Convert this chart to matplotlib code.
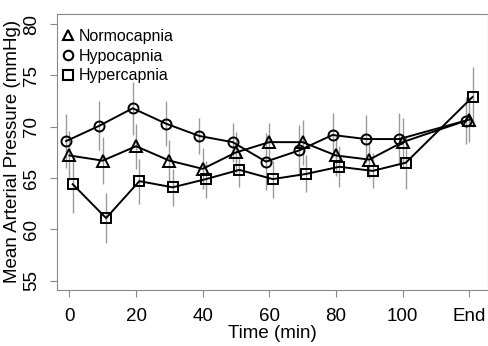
import matplotlib
matplotlib.use('Agg')
import matplotlib.pyplot as plt
import numpy as np

plt.rcParams['font.family'] = ['Liberation Sans', 'DejaVu Sans']

# time points (End drawn at 120)
times = [0, 10, 20, 30, 40, 50, 60, 70, 80, 90, 100, 120]
tick_pos = [0, 20, 40, 60, 80, 100, 120]
tick_labels = ['0', '20', '40', '60', '80', '100', 'End']

normo = [67.2, 66.7, 68.1, 66.7, 65.9, 67.5, 68.5, 68.5, 67.2, 66.8, 68.5, 70.7]
normo_err = [2.4, 2.3, 2.2, 2.0, 2.0, 2.0, 1.9, 2.2, 2.0, 1.8, 2.4, 2.2]
hypo = [68.6, 70.1, 71.8, 70.3, 69.1, 68.5, 66.6, 67.7, 69.2, 68.8, 68.8, 70.6]
hypo_err = [2.6, 2.4, 2.6, 2.2, 1.8, 1.9, 2.8, 2.5, 2.1, 2.3, 2.5, 2.3]
hyper = [64.4, 61.1, 64.7, 64.1, 64.9, 65.8, 64.9, 65.4, 66.1, 65.7, 66.5, 72.9]
hyper_err = [2.8, 2.4, 2.2, 1.8, 1.8, 1.7, 1.8, 1.8, 2.0, 1.7, 2.6, 2.9]

series = [
    ('Normocapnia', normo, normo_err, '^', 0, 8),
    ('Hypocapnia', hypo, hypo_err, 'o', -1, 7.2),
    ('Hypercapnia', hyper, hyper_err, 's', 1, 7.5),
]

fig = plt.figure(figsize=(4.88, 3.46), dpi=100)
ax = fig.add_axes([0.117, 0.162, 0.882, 0.798])

handles = []
for name, vals, errs, mk, off, ms in series:
    x = np.array(times) + off
    ax.errorbar(x, vals, yerr=errs, fmt='none', ecolor='#9a9a9a', elinewidth=1, capsize=0, zorder=1)
    ax.plot(x, vals, color='black', lw=1.4, zorder=2)
    ax.plot(x, vals, ls='none', marker=mk, ms=ms, mfc='none', mec='black', mew=1.4, zorder=3)
    h, = ax.plot([], [], ls='none', marker=mk, ms=ms * 0.95, mfc='none', mec='black', mew=1.5, label=name)
    handles.append(h)

ax.set_xlim(-3.7, 125.5)
ax.set_ylim(54.1, 81.0)
ax.set_xticks(tick_pos)
ax.set_xticklabels(tick_labels)
ax.set_yticks([55, 60, 65, 70, 75, 80])
ax.set_yticklabels(['55', '60', '65', '70', '75', '80'], rotation=90, va='center')

for s in ax.spines.values():
    s.set_color('#888888')
ax.tick_params(direction='out', length=5, color='#888888', labelsize=13.5, pad=7)
ax.tick_params(axis='x', pad=8)

ax.set_xlabel('Time (min)', fontsize=13.5, labelpad=0)
ax.set_ylabel('Mean Arterial Pressure (mmHg)', fontsize=13.5, labelpad=2)

ax.legend(handles=handles, loc='upper left', bbox_to_anchor=(-0.005, 0.975), frameon=False,
          fontsize=11.5, handlelength=0.6, handletextpad=0.4, labelspacing=0.3,
          borderaxespad=0.2, borderpad=0.3)

fig.savefig('out.png', dpi=100)
